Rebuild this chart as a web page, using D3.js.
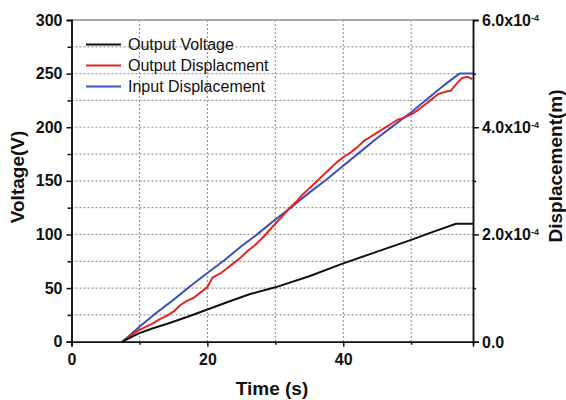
<!DOCTYPE html>
<html lang="en">
<head>
    <meta charset="UTF-8">
    <title>Voltage and Displacement vs Time</title>
    <script src="https://cdnjs.cloudflare.com/ajax/libs/d3/7.8.5/d3.min.js"></script>
    <style>
        * { margin: 0; padding: 0; }
        body { background: #fff; font-family: 'Liberation Sans', Arial, sans-serif; }
        svg { display: block; }
        .tick-label { font-weight: bold; font-size: 16px; fill: #111; }
        .axis-title { font-weight: bold; font-size: 19px; fill: #111; }
        .legend-label { font-size: 16px; fill: #111; }
    </style>
</head>
<body>
<div id="chart"></div>
<script>
    // Output voltage (V)
    const voltageTime = [7.5, 9, 10, 12, 14, 17, 20, 23, 26.3, 30, 35, 40, 45, 50, 53, 56.6, 59.1];
    const outputVoltage = [0, 5, 8, 12.5, 16.5, 23, 30, 37, 44.5, 50.7, 61, 73, 84, 95, 102, 110, 110];

    // Output displacement (micrometres)
    const outDispTime = [7.5, 8.5, 10, 11, 12, 13, 14, 15, 16, 17, 18, 19, 20, 20.8, 22, 23, 24, 25, 26, 27,
        28, 29, 30, 31, 32, 33, 34, 35, 36, 37, 38, 39, 40, 41, 42, 43, 44, 45, 46, 47, 48, 49, 50, 51, 52,
        53, 54, 55, 55.8, 56.6, 57.5, 58.3, 59];
    const outputDisp = [0, 10, 22, 28, 34, 42, 48, 56, 68, 76, 82, 92, 102, 120, 128, 138, 148, 158, 170, 180,
        192, 206, 220, 234, 248, 260, 274, 286, 298, 310, 322, 334, 344, 352, 362, 374, 382, 390, 398, 406, 414,
        418, 424, 432, 442, 452, 462, 466, 468, 480, 492, 494, 490];

    // Input displacement (micrometres)
    const inDispTime = [7.5, 10, 12.5, 15, 17.5, 20, 22.5, 25, 27.5, 30, 32.5, 35, 37.5, 40, 42.5, 45, 47.5, 50, 52.5, 55, 57.1, 59.1];
    const inputDisp = [0, 28, 54, 78, 104, 128, 152, 178, 202, 228, 252, 278, 302, 328, 354, 380, 404, 428, 454, 480, 500, 500];

    const xTicks = [0, 20, 40];
    const xMinorTicks = [10, 30, 50];
    const yTicks = [0, 50, 100, 150, 200, 250, 300];
    const yMinorTicks = [25, 75, 125, 175, 225, 275];
    const rightTicks = [0, 200, 400, 600];
    const rightMinorTicks = [100, 300, 500];
    const rightTickLabels = ["0.0", "2.0x10", "4.0x10", "6.0x10"];
    const rightTickExp = ["", "-4", "-4", "-4"];

    const legendNames = ["Output Voltage", "Output Displacment", "Input Displacement"];
    const legendColors = ["#111111", "#e02525", "#3b50b8"];

    const W = 566, H = 400;
    const plot = { left: 71.5, right: 473, top: 20, bottom: 341.7 };

    const svg = d3.select("#chart").append("svg")
        .attr("width", W).attr("height", H);

    svg.append("rect").attr("width", W).attr("height", H).attr("fill", "#fff");

    const x = d3.scaleLinear().domain([0, 59.1]).range([plot.left, plot.right]);
    const y = d3.scaleLinear().domain([0, 300]).range([plot.bottom, plot.top]);
    const yR = d3.scaleLinear().domain([0, 600]).range([plot.bottom, plot.top]);

    // grid
    const grid = svg.append("g")
        .attr("stroke", "#999").attr("stroke-width", 1.2).attr("stroke-dasharray", "2,2");
    grid.selectAll(".hg").data(yTicks.concat(yMinorTicks).filter(v => v > 0 && v < 300))
        .enter().append("line")
        .attr("x1", plot.left).attr("x2", plot.right)
        .attr("y1", d => y(d)).attr("y2", d => y(d));
    grid.selectAll(".vg").data([10, 20, 30, 40, 50])
        .enter().append("line")
        .attr("y1", plot.top).attr("y2", plot.bottom)
        .attr("x1", d => x(d)).attr("x2", d => x(d));

    // top border
    svg.append("line")
        .attr("x1", plot.left).attr("x2", plot.right)
        .attr("y1", plot.top).attr("y2", plot.top)
        .attr("stroke", "#aaa").attr("stroke-width", 2);

    // lines
    const line = d3.line().x(d => x(d[0]));
    const series = [
        { t: inDispTime, v: inputDisp, scale: yR, color: legendColors[2] },
        { t: outDispTime, v: outputDisp, scale: yR, color: legendColors[1] },
        { t: voltageTime, v: outputVoltage, scale: y, color: legendColors[0] }
    ];
    series.forEach(s => {
        svg.append("path")
            .datum(s.t.map((t, i) => [t, s.v[i]]))
            .attr("fill", "none")
            .attr("stroke", s.color)
            .attr("stroke-width", 2)
            .attr("stroke-linejoin", "round")
            .attr("d", line.y(d => s.scale(d[1])));
    });

    // axes
    svg.append("g")
        .attr("transform", `translate(${plot.left},0)`)
        .call(d3.axisLeft(y).tickValues(yTicks).tickSize(5).tickPadding(4));
    svg.append("g")
        .attr("transform", `translate(${plot.left},0)`)
        .call(d3.axisLeft(y).tickValues(yMinorTicks).tickSize(4).tickFormat(""));

    svg.append("g")
        .attr("transform", `translate(0,${plot.bottom})`)
        .call(d3.axisBottom(x).tickValues(xTicks).tickSize(5).tickPadding(7));
    svg.append("g")
        .attr("transform", `translate(0,${plot.bottom})`)
        .call(d3.axisBottom(x).tickValues(xMinorTicks).tickSize(3).tickFormat(""));

    const axisRight = svg.append("g")
        .attr("transform", `translate(${plot.right},0)`)
        .call(d3.axisRight(yR).tickValues(rightTicks).tickSize(6).tickPadding(3).tickFormat(""));
    svg.append("g")
        .attr("transform", `translate(${plot.right},0)`)
        .call(d3.axisRight(yR).tickValues(rightMinorTicks).tickSize(3).tickFormat(""));

    svg.selectAll(".domain").attr("stroke", "#111").attr("stroke-width", 1.5);
    svg.selectAll(".tick line").attr("stroke", "#111").attr("stroke-width", 1.5);
    svg.selectAll(".tick text").attr("class", "tick-label")
        .attr("font-family", null).attr("font-size", null);

    // right tick labels with superscript exponent
    axisRight.selectAll(".tick").each(function(d, i) {
        const t = d3.select(this).select("text")
            .attr("x", 9).attr("dy", "0.34em").attr("text-anchor", "start")
            .text(rightTickLabels[i]);
        if (rightTickExp[i]) {
            t.append("tspan")
                .attr("dy", "-0.55em")
                .attr("font-size", "9px")
                .text(rightTickExp[i]);
        }
    });

    // axis titles
    svg.append("text").attr("class", "axis-title")
        .attr("x", 272).attr("y", 395).attr("text-anchor", "middle")
        .text("Time (s)");
    svg.append("text").attr("class", "axis-title")
        .attr("transform", "translate(24,177) rotate(-90)")
        .attr("text-anchor", "middle")
        .text("Voltage(V)");
    svg.append("text").attr("class", "axis-title")
        .attr("transform", "translate(562,166) rotate(-90)")
        .attr("text-anchor", "middle")
        .text("Displacement(m)");

    // legend
    const legend = svg.append("g").attr("transform", "translate(86,44.5)");
    legendNames.forEach((name, i) => {
        const row = legend.append("g").attr("transform", `translate(0,${i * 21})`);
        row.append("line")
            .attr("x1", 0).attr("x2", 35)
            .attr("stroke", legendColors[i]).attr("stroke-width", 2);
        row.append("text").attr("class", "legend-label")
            .attr("x", 42).attr("dy", "0.36em")
            .text(name);
    });
</script>
</body>
</html>
